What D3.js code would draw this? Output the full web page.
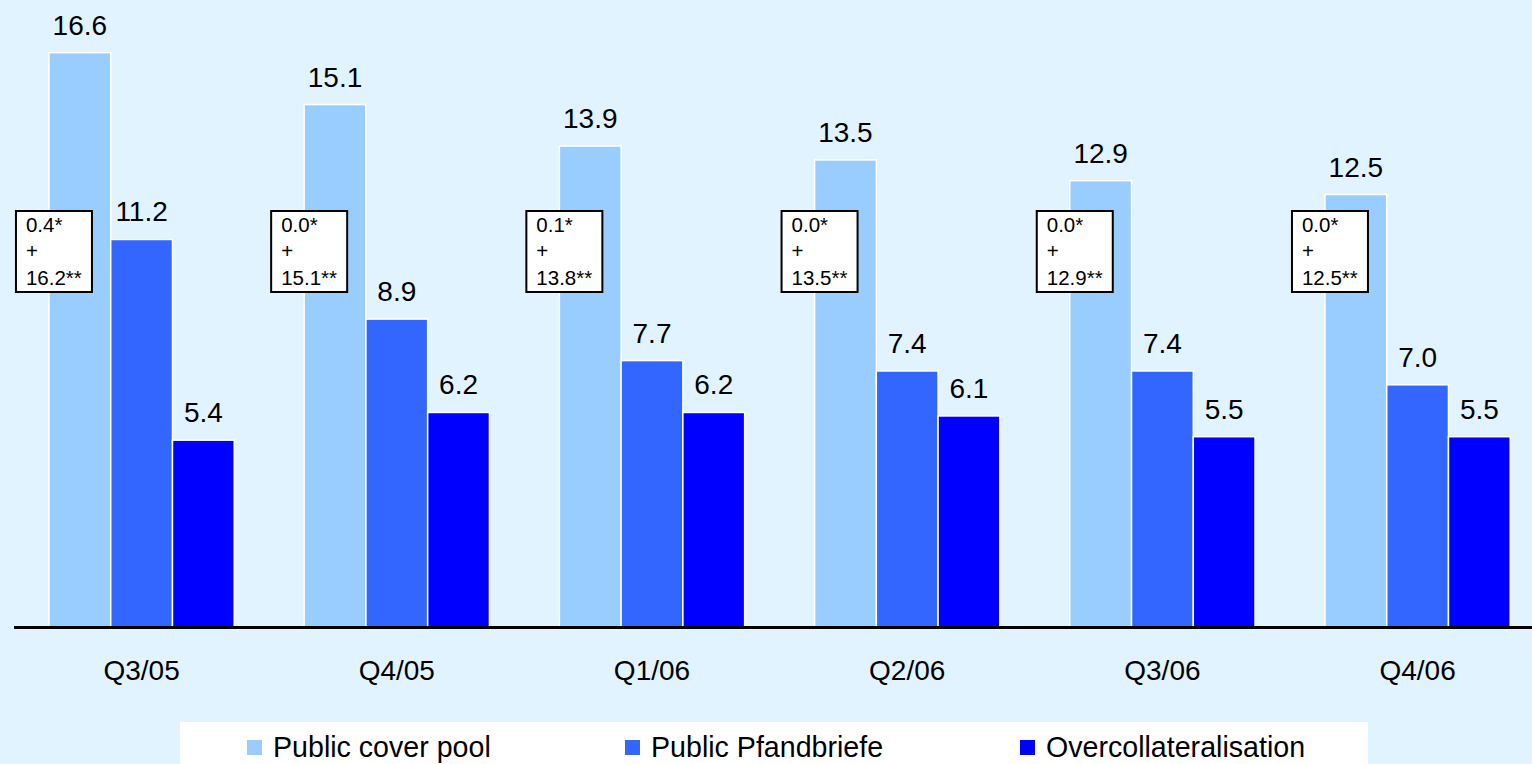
<!DOCTYPE html>
<html>
<head>
<meta charset="utf-8">
<script src="https://cdn.jsdelivr.net/npm/d3@7"></script>
<style>
  html, body { margin: 0; padding: 0; background: #E1F3FF; }
  svg { display: block; font-family: "Liberation Sans", Arial, sans-serif; }
</style>
</head>
<body>
<svg id="chart" width="1532" height="764"></svg>
<script>
var quarters = ["Q3/05", "Q4/05", "Q1/06", "Q2/06", "Q3/06", "Q4/06"];
var series_names = ["Public cover pool", "Public Pfandbriefe", "Overcollateralisation"];
var series_colors = ["#99CCFF", "#3366FF", "#0000FF"];
var cover_pool = [16.6, 15.1, 13.9, 13.5, 12.9, 12.5];
var pfandbriefe = [11.2, 8.9, 7.7, 7.4, 7.4, 7.0];
var overcollateralisation = [5.4, 6.2, 6.2, 6.1, 5.5, 5.5];
var box_first = ["0.4*", "0.0*", "0.1*", "0.0*", "0.0*", "0.0*"];
var box_second = ["16.2**", "15.1**", "13.8**", "13.5**", "12.9**", "12.5**"];

var svg = d3.select("#chart");
var width = 1532, height = 764;
var baseline_y = 627;

svg.append("rect").attr("width", width).attr("height", height).attr("fill", "#E1F3FF");

var x_group = d3.scaleBand()
    .domain(quarters)
    .range([14, 1545.2])
    .paddingInner(0.274)
    .paddingOuter(0.137);

var x_series = d3.scaleBand()
    .domain(series_names)
    .range([0, x_group.bandwidth()]);

var y = d3.scaleLinear()
    .domain([0, 18])
    .range([baseline_y, baseline_y - 18 * 34.6]);

var all_values = [cover_pool, pfandbriefe, overcollateralisation];
var cells = [];
for (var i = 0; i < quarters.length; i++)
{
    for (var j = 0; j < series_names.length; j++)
    {
        cells.push({quarter: quarters[i], series: series_names[j], color: series_colors[j], value: all_values[j][i]});
    }
}

var bars = svg.append("g").attr("id", "bars");
bars.selectAll("rect").data(cells).enter().append("rect").
    attr("x", function(d) { return x_group(d.quarter) + x_series(d.series); }).
    attr("y", function(d) { return y(d.value); }).
    attr("width", x_series.bandwidth()).
    attr("height", function(d) { return baseline_y - y(d.value); }).
    attr("fill", function(d) { return d.color; }).
    attr("stroke", "#FFFFFF").
    attr("stroke-width", 1.5);

bars.selectAll("text").data(cells).enter().append("text").
    attr("x", function(d) { return x_group(d.quarter) + x_series(d.series) + x_series.bandwidth() / 2; }).
    attr("y", function(d) { return y(d.value) - 18; }).
    attr("text-anchor", "middle").
    attr("font-size", "28px").
    attr("fill", "#000").
    text(function(d) { return d.value.toFixed(1); });

// baseline and category labels
svg.append("line").
    attr("x1", 14).attr("x2", width).
    attr("y1", baseline_y + 0.5).attr("y2", baseline_y + 0.5).
    attr("stroke", "#000").attr("stroke-width", 3);

var x_axis = d3.axisBottom(x_group).tickSize(0).tickPadding(0);
var axis_g = svg.append("g").attr("transform", "translate(0," + baseline_y + ")").call(x_axis);
axis_g.select(".domain").remove();
axis_g.selectAll("text").
    attr("dy", null).
    attr("y", 53).
    attr("font-size", "28px").
    attr("font-family", "Liberation Sans, Arial, sans-serif").
    attr("fill", "#000");

// annotation boxes
var boxes = svg.append("g").attr("id", "boxes");
var box_g = boxes.selectAll("g").data(quarters).enter().append("g").
    attr("transform", function(q) { return "translate(" + (x_group(q) - 33) + ",211)"; });
box_g.append("rect").
    attr("width", 76).attr("height", 81).
    attr("fill", "#FFFFFF").attr("stroke", "#000").attr("stroke-width", 2);
box_g.append("text").attr("x", 10).attr("y", 21).attr("font-size", "20.5px").
    text(function(q, i) { return box_first[i]; });
box_g.append("text").attr("x", 10).attr("y", 47).attr("font-size", "20.5px").
    text("+");
box_g.append("text").attr("x", 10).attr("y", 74).attr("font-size", "20.5px").
    text(function(q, i) { return box_second[i]; });

// legend
var legend = svg.append("g").attr("id", "legend");
legend.append("rect").
    attr("x", 180).attr("y", 722).attr("width", 1188).attr("height", 50).
    attr("fill", "#FFFFFF");
var legend_x = [247, 625, 1020];
var item = legend.selectAll("g.item").data(series_names).enter().append("g").
    attr("class", "item").
    attr("transform", function(d, i) { return "translate(" + legend_x[i] + ",740)"; });
item.append("rect").attr("width", 15).attr("height", 15).
    attr("fill", function(d, i) { return series_colors[i]; });
item.append("text").attr("x", 26).attr("y", 17).attr("font-size", "28.6px").
    text(function(d) { return d; });
</script>
</body>
</html>
